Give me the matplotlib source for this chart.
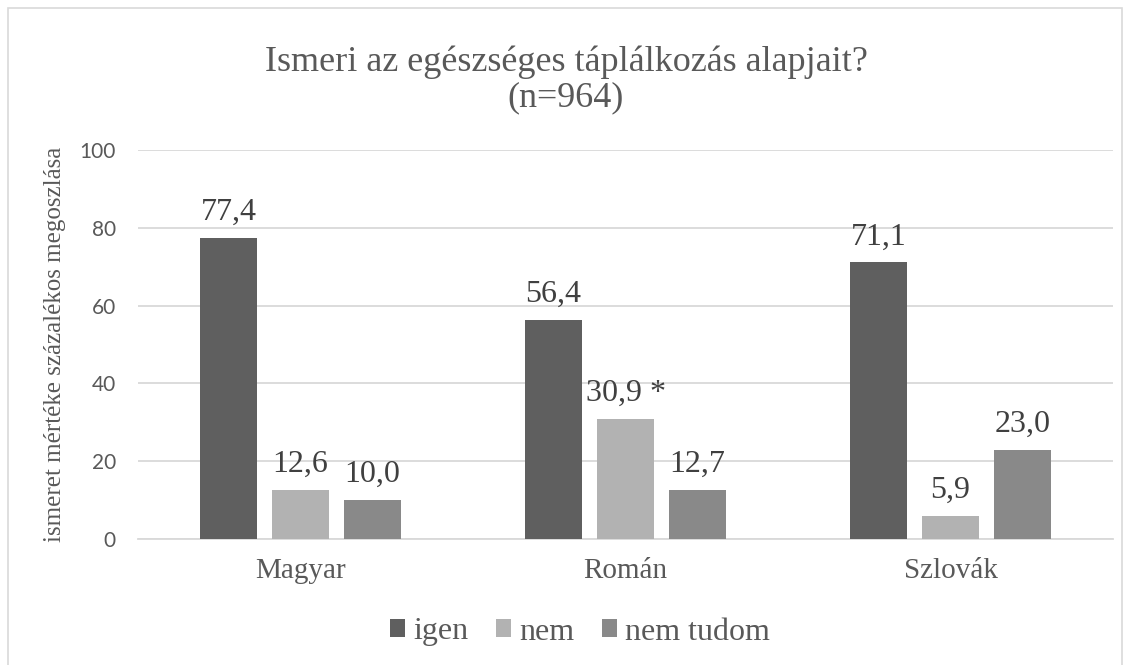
import matplotlib
matplotlib.use("Agg")
import matplotlib.pyplot as plt
from matplotlib.patches import Rectangle, Patch
import numpy as np

categories = ["Magyar", "Román", "Szlovák"]
series_names = ["igen", "nem", "nem tudom"]
igen = [77.4, 56.4, 71.1]
nem = [12.6, 30.9, 5.9]
nem_tudom = [10.0, 12.7, 23.0]
nem_labels = ["12,6", "30,9 *", "5,9"]
yticks = [0, 20, 40, 60, 80, 100]

plt.rcParams["font.serif"] = ["Liberation Serif", "DejaVu Serif"]
plt.rcParams["font.sans-serif"] = ["Lato", "DejaVu Sans"]

colors = ["#5f5f5f", "#b2b2b2", "#898989"]
text_color = "#595959"
serif = "serif"

fig = plt.figure(figsize=(11.31, 6.65), dpi=100)
ax = fig.add_axes([138/1131, (665-539)/665, (1113-138)/1131, (539-150)/665])

x = np.arange(len(categories))
width = 0.175
offset = 0.2215
series = [igen, nem, nem_tudom]
for i, (vals, col, name) in enumerate(zip(series, colors, series_names)):
    bars = ax.bar(x + (i - 1) * offset, vals, width, color=col, label=name, zorder=3)
    for j, (b, v) in enumerate(zip(bars, vals)):
        lab = nem_labels[j] if i == 1 else f"{v:.1f}".replace(".", ",")
        ax.annotate(lab, (b.get_x() + b.get_width() / 2, v), xytext=(0, 13),
                    textcoords="offset points", ha="center", va="baseline",
                    fontsize=23, family=serif, color="#404040")

ax.set_xlim(-0.5, 2.5)
ax.set_ylim(0, 100)
ax.set_yticks(yticks)
ax.set_yticklabels([str(t) for t in yticks], family="sans-serif", fontsize=15, color=text_color)
ax.set_xticks(x)
ax.set_xticklabels(categories, family=serif, fontsize=21, color=text_color)
ax.tick_params(axis="both", length=0)
ax.tick_params(axis="y", pad=16)
ax.tick_params(axis="x", pad=14)
ax.yaxis.grid(True, color="#d9d9d9", linewidth=1.3, zorder=0)
for s in ["top", "right", "left"]:
    ax.spines[s].set_visible(False)
ax.spines["bottom"].set_color("#d9d9d9")
ax.spines["bottom"].set_linewidth(1.3)

ax.set_ylabel("ismeret mértéke százalékos megoszlása", family=serif, fontsize=18,
              color=text_color, labelpad=10)

fig.text(566 / 1131, (665 - 80) / 665,
         "Ismeri az egészséges táplálkozás alapjait?\n(n=964)",
         ha="center", va="center", family=serif, fontsize=26, color=text_color,
         linespacing=1.1)

handles = [Patch(facecolor=c, edgecolor="none") for c in colors]
leg = fig.legend(handles, series_names, loc="center", bbox_to_anchor=(580/1131, (665-632)/665),
                 ncol=3, frameon=False, prop={"family": serif, "size": 23},
                 handlelength=0.47, handleheight=0.47, handletextpad=0.25, columnspacing=0.875)
for t in leg.get_texts():
    t.set_color(text_color)

fig.patches.append(Rectangle((8/1131, -0.05), (1122-8)/1131, (665-8)/665 + 0.05,
                             transform=fig.transFigure, fill=False,
                             edgecolor="#d9d9d9", linewidth=1.2))

fig.savefig("out.png", dpi=100)
